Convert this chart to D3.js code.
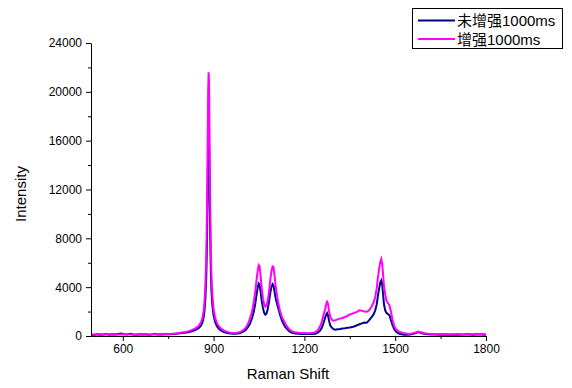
<!DOCTYPE html>
<html><head><meta charset="utf-8">
<script src="https://cdn.jsdelivr.net/npm/d3@7"></script>
<style>body{margin:0;background:#fff}</style>
</head><body>
<svg id="c" width="572" height="388"></svg>
<script>
const seriesNames = ["未增强1000ms", "增强1000ms"];
const seriesColors = ["#00008f", "#ff00ff"];
const ramanShift = [495,505,515,525,535,545,555,565,575,585,595,605,615,625,635,645,655,665,675,685,695,705,715,725,735,745,755,765,775,785,795,805,815,825,835,845,852,858,863,867,870,873,876,878,880,882,883.5,885,887,889,891,893,896,900,905,911,918,926,935,945,955,965,975,985,995,1005,1013,1020,1027,1033,1038,1042,1046,1049,1052,1055,1059,1063,1067,1071,1075,1079,1083,1087,1091,1095,1098,1101,1105,1110,1115,1120,1126,1132,1138,1145,1152,1160,1170,1180,1190,1200,1210,1220,1230,1238,1245,1252,1258,1263,1268,1272,1275,1278,1281,1285,1290,1296,1303,1310,1318,1326,1334,1342,1350,1358,1366,1374,1382,1390,1398,1406,1414,1422,1428,1434,1439,1443,1447,1451,1454,1457,1460,1463,1467,1471,1476,1481,1486,1491,1497,1504,1512,1520,1530,1540,1550,1560,1568,1576,1584,1592,1600,1610,1620,1635,1650,1665,1680,1695,1710,1725,1740,1755,1770,1785,1800];
const unenhanced = [120,90,150,110,130,160,100,140,120,170,200,150,120,180,130,110,150,120,140,110,130,160,120,150,130,170,140,160,190,210,240,270,310,370,450,560,680,850,1100,1500,2100,3100,5000,7500,11000,15500,16600,15800,12000,8000,5300,3700,2500,1700,1150,800,580,420,320,250,200,180,190,230,320,480,700,1000,1450,2000,2700,3400,4000,4300,4200,3700,2900,2300,1900,1750,1850,2200,2800,3500,4000,4250,4150,3700,3100,2600,2150,1700,1250,950,700,500,360,270,210,180,170,180,160,170,160,200,300,450,700,1050,1450,1750,1880,1700,1300,900,700,560,520,560,580,620,640,680,700,730,800,880,960,1030,1100,1080,1300,1550,1750,2100,2600,3300,3900,4400,4550,4200,3400,2600,2100,1900,1800,1700,1300,900,550,320,200,140,110,100,130,180,250,320,260,200,160,140,120,130,110,120,100,130,110,120,140,110,130,120,110];
const enhanced = [150,130,120,160,110,140,120,150,110,130,140,120,160,130,110,140,120,150,130,120,150,140,130,160,140,150,170,190,210,240,280,320,380,460,560,700,850,1100,1450,2000,2800,4200,6800,10000,14800,20000,21600,20800,15500,10500,7000,4800,3300,2200,1500,1050,780,580,440,340,270,240,250,300,420,640,950,1400,2000,2800,3700,4600,5400,5800,5700,5000,3900,3100,2600,2400,2500,2900,3600,4500,5300,5700,5650,5000,4100,3200,2550,2000,1550,1250,950,700,500,380,300,260,240,240,230,240,260,330,500,800,1200,1700,2150,2600,2800,2650,2100,1600,1350,1250,1300,1360,1420,1480,1560,1640,1760,1830,1900,1980,2100,2080,2000,1980,2100,2400,2700,3200,3900,4800,5500,6100,6300,5900,5000,4100,3400,2900,2700,2500,2000,1350,800,520,370,300,230,190,160,220,300,360,300,260,210,180,170,150,160,140,150,140,160,130,170,140,160,150,140];
const xMajor = [600,900,1200,1500,1800];
const xMinor = [750,1050,1350,1650];
const yMajor = [0,4000,8000,12000,16000,20000,24000];
const yMinor = [2000,6000,10000,14000,18000,22000];

const svg = d3.select("#c");
const font = "'Liberation Sans', Arial, sans-serif";
const x = d3.scaleLinear().domain([495,1800]).range([91,486]);
const y = d3.scaleLinear().domain([0,24000]).range([336,43]);

const line = d3.line().x(d=>x(d[0])).y(d=>y(d[1]));
[unenhanced, enhanced].forEach((vals,i)=>{
  svg.append("path").datum(ramanShift.map((r,j)=>[r,vals[j]]))
    .attr("d", line).attr("fill","none").attr("stroke",seriesColors[i])
    .attr("stroke-width",2).attr("stroke-linejoin","miter");
});

// x axis
const xa = svg.append("g").attr("transform","translate(0,336)");
xa.call(d3.axisBottom(x).tickValues(xMajor).tickSize(5).tickSizeOuter(0).tickPadding(3).tickFormat(d3.format("d")));
xa.append("g").call(d3.axisBottom(x).tickValues(xMinor).tickSize(3).tickFormat("").tickSizeOuter(0)).select(".domain").remove();
// y axis
const ya = svg.append("g").attr("transform","translate(91,0)");
ya.call(d3.axisLeft(y).tickValues(yMajor).tickSize(5).tickSizeOuter(0).tickPadding(4).tickFormat(d3.format("d")));
ya.append("g").call(d3.axisLeft(y).tickValues(yMinor).tickSize(3).tickFormat("").tickSizeOuter(0)).select(".domain").remove();
svg.selectAll(".tick text").attr("font-family",font).attr("font-size",12).attr("fill","#000");
svg.selectAll(".domain, .tick line").attr("stroke","#000");

svg.append("text").attr("x",288).attr("y",379).attr("text-anchor","middle")
  .attr("font-family",font).attr("font-size",15).text("Raman Shift");
svg.append("text").attr("transform","translate(26,194) rotate(-90)").attr("text-anchor","middle")
  .attr("font-family",font).attr("font-size",15).text("Intensity");

// legend
const lg = svg.append("g");
lg.append("rect").attr("x",412.5).attr("y",8.5).attr("width",150).attr("height",40)
  .attr("fill","#fff").attr("stroke","#000").attr("stroke-width",1);
seriesNames.forEach((n,i)=>{
  const cy = 20.5 + i*18.5;
  lg.append("line").attr("x1",418).attr("x2",455).attr("y1",cy).attr("y2",cy)
    .attr("stroke",seriesColors[i]).attr("stroke-width",2);
  lg.append("text").attr("x",457).attr("y",cy+5.5)
    .attr("font-family","'Liberation Sans','Noto Sans CJK SC',sans-serif").attr("font-size",15).text(n);
});
</script>
</body></html>
